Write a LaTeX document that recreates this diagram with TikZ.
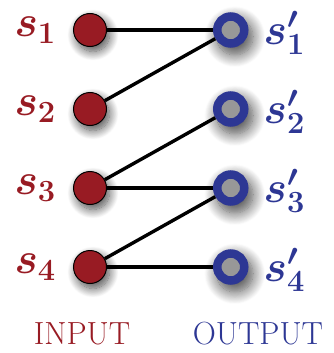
\RequirePackage{fix-cm}
\documentclass[tikz,border=0pt]{standalone}
\usepackage{bm}
\usetikzlibrary{positioning,shadows.blur}
\definecolor{inred}{RGB}{152,27,35}
\definecolor{outblue}{RGB}{45,55,148}
\definecolor{holegray}{RGB}{152,152,152}

\begin{document}
\begin{tikzpicture}[
x=1pt, y=1pt,
node distance = 45pt,
inp/.style={circle, minimum size=33pt, inner sep=0pt, draw=black, line width=1pt, fill=inred,
  blur shadow={shadow xshift=3pt, shadow yshift=-5pt, shadow blur radius=9pt, shadow blur steps=14, shadow opacity=70}},
outp/.style={circle, minimum size=27pt, inner sep=0pt, draw=outblue, line width=8.5pt, fill=holegray,
  blur shadow={shadow xshift=3pt, shadow yshift=-5pt, shadow scale=1.35, shadow blur radius=9pt, shadow blur steps=14, shadow opacity=70}},
inlab/.style={text=inred, inner sep=0pt, font=\fontsize{44}{48}\selectfont},
outlab/.style={text=outblue, inner sep=0pt, yshift=-3pt, font=\fontsize{44}{48}\selectfont},
side/.style={font=\fontsize{32}{36}\selectfont},
link/.style={line width=3.4pt, black}]
\useasboundingbox (0,0) rectangle (334,-353);

\node [inp] (in1) at (90,-30) {};
\node [inp] (in2) [below=of in1] {};
\node [inp] (in3) [below=of in2] {};
\node [inp] (in4) [below=of in3] {};

\node [outp] (out1) [right=106pt of in1] {};
\node [outp] (out2) [right=106pt of in2] {};
\node [outp] (out3) [right=106pt of in3] {};
\node [outp] (out4) [right=106pt of in4] {};

\node [inlab] (lin1) [left=17pt of in1] {$\bm{s_1}$};
\node [inlab] (lin2) [left=17pt of in2] {$\bm{s_2}$};
\node [inlab] (lin3) [left=17pt of in3] {$\bm{s_3}$};
\node [inlab] (lin4) [left=17pt of in4] {$\bm{s_4}$};

\node [outlab] (lout1) [right=15pt of out1] {$\bm{s'_1}$};
\node [outlab] (lout2) [right=15pt of out2] {$\bm{s'_2}$};
\node [outlab] (lout3) [right=15pt of out3] {$\bm{s'_3}$};
\node [outlab] (lout4) [right=15pt of out4] {$\bm{s'_4}$};

\draw [link] (in1) -- (out1);
\draw [link] (in2) -- (out1);
\draw [link] (in3) -- (out2);
\draw [link] (in3) -- (out3);
\draw [link] (in4) -- (out3);
\draw [link] (in4) -- (out4);

\node [side, text=inred] (input) at (82,-334) {INPUT};
\node [side, text=outblue] (output) at (258,-334) {OUTPUT};
\end{tikzpicture}
\end{document}
